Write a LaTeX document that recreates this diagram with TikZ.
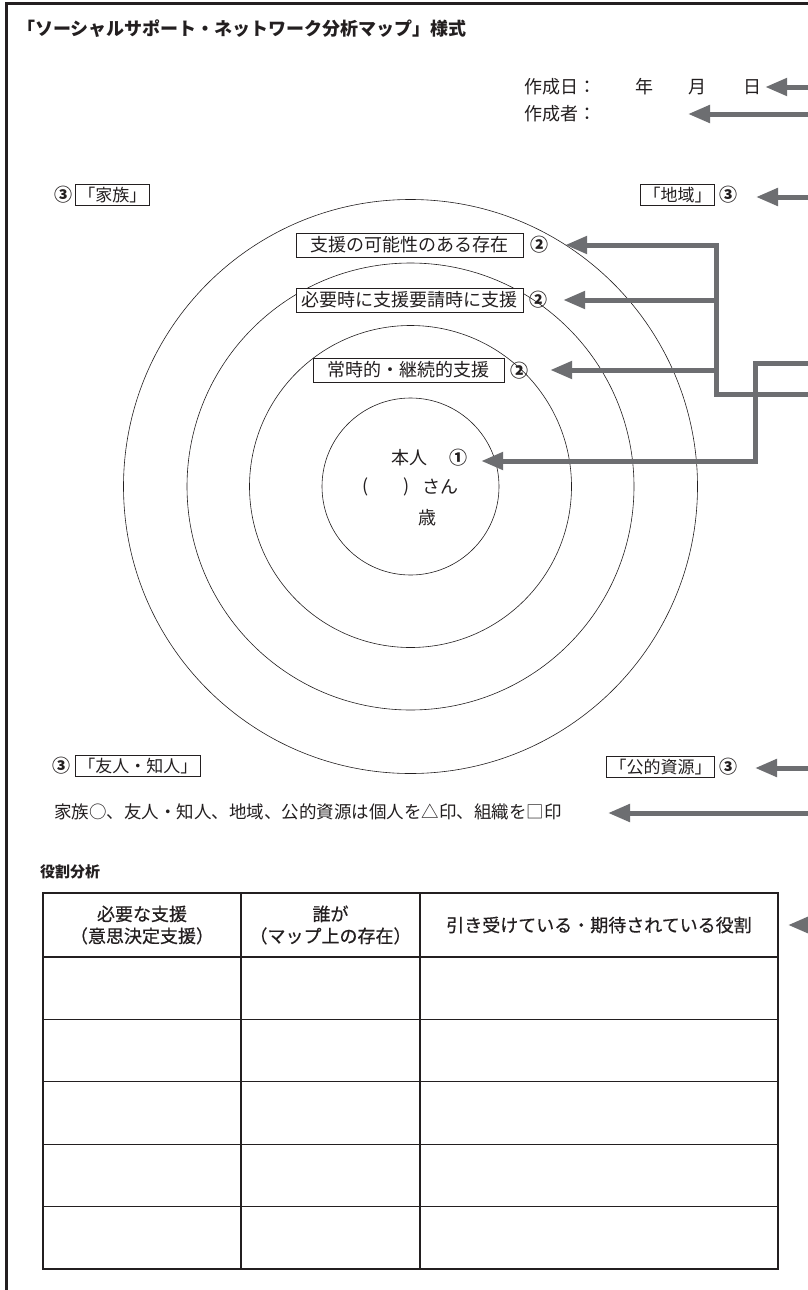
\documentclass[tikz,border=0pt]{standalone}
\usepackage{fontspec}
\setmainfont{Noto Sans CJK JP}
\newfontfamily\jpmed{Noto Sans CJK JP}[FakeBold=0.5]
\usetikzlibrary{arrows.meta}
\definecolor{arrowgray}{HTML}{6D6E71}
\definecolor{ink}{HTML}{231F20}
\begin{document}
\begin{tikzpicture}[x=1pt,y=-1pt,
  txt/.style={inner sep=0pt, font=\fontsize{18}{20}\selectfont, text=ink},
  num/.style={inner sep=0pt, font=\fontsize{18}{20}\selectfont\bfseries, text=ink},
  tag/.style={draw=ink, line width=0.9pt, inner xsep=3pt, inner ysep=3pt, font=\fontsize{17}{19}\selectfont, text=ink},
  bigtag/.style={draw=ink, line width=0.9pt, inner sep=0pt, minimum height=24pt, font=\fontsize{18}{20}\selectfont, text=ink},
  ring/.style={draw=ink, line width=0.6pt},
  garrow/.style={draw=arrowgray, line width=5pt, line join=miter, -{Triangle[length=22pt,width=17pt]}},
  tbl/.style={draw=ink, line width=1.1pt},
  head/.style={inner sep=0pt, align=center, font=\fontsize{18}{22}\selectfont\jpmed, text=ink}
]
\useasboundingbox (0,0) rectangle (808,1290);
\fill[white] (0,0) rectangle (808,1290);
% frame
\draw[ink, line width=3pt, line join=miter] (6,1295) -- (6,4) -- (812,4);

% title
\node[txt, anchor=west, font=\fontsize{18}{20}\selectfont\bfseries] (title) at (17,29) {「ソーシャルサポート・ネットワーク分析マップ」様式};

% date / author
\node[txt, anchor=west] (made) at (524,87) {作成日：};
\node[txt] (yr) at (644,87) {年};
\node[txt] (mo) at (697,87) {月};
\node[txt] (dy) at (752,87) {日};
\coordinate (dyS) at (812,87);
\draw[garrow] (dyS) -- ([xshift=4pt]dy.east);

\node[txt, anchor=west] (author) at (524,114) {作成者：};
\coordinate (authS) at (812,114);
\coordinate (authT) at (688,114);
\draw[garrow] (authS) -- (authT);

% family / region
\node[num] (c3fam) at (63,195) {③};
\node[tag, anchor=west] (fam) at (75,195) {「家族」};
\node[tag, anchor=east] (reg) at (715,195) {「地域」};
\node[num] (c3reg) at (728,195) {③};
\coordinate (regS) at (812,197);
\coordinate (regT) at (756,197);
\draw[garrow] (regS) -- (regT);

% rings
\coordinate (ctr) at (410.5,486.5);
\draw[ring] (ctr) circle[radius=88.5];
\draw[ring] (ctr) circle[radius=161];
\draw[ring] (ctr) circle[radius=223.5];
\draw[ring] (ctr) circle[radius=287];

% ring labels
\node[bigtag, fill=white, minimum width=227pt] (pot) at (409.5,245) {支援の可能性のある存在};
\node[num] (c2a) at (539,245) {②};
\node[bigtag, fill=white, minimum width=227pt] (need) at (409.5,300) {必要時に支援要請時に支援};
\node[num] (c2b) at (538,300) {②};
\node[bigtag, fill=white, minimum width=191pt] (const) at (408.5,370) {常時的・継続的支援};
\node[num] (c2c) at (519,371) {②};

% self
\node[txt] (self) at (409,458) {本人};
\node[num] (one) at (458,458) {①};
\node[txt] (lp) at (366,487) {(};
\node[txt] (rp) at (407,487) {)};
\node[txt] (san) at (440,487) {さん};
\node[txt] (age) at (427,518) {歳};

% trunk arrows
\coordinate (trS) at (812,394);
\coordinate (trC) at (716,394);
\coordinate (trT) at (716,245);
\coordinate (trB) at (716,300);
\coordinate (trD) at (716,370);
\draw[garrow] (trS) -- (trC) -- (trT) -- ([xshift=17pt]c2a.east);
\draw[garrow] (trB) -- ([xshift=16pt]c2b.east);
\draw[garrow] (trD) -- ([xshift=22pt,yshift=1pt]c2c.east);

\coordinate (p2S) at (812,363);
\coordinate (p2A) at (755,363);
\coordinate (p2B) at (755,461);
\draw[garrow] (p2S) -- (p2A) -- (p2B) -- ([xshift=14pt,yshift=-3pt]one.east);

% friends / public
\node[num] (c3fr) at (61,766) {③};
\node[tag, anchor=west] (fr) at (75,766) {「友人・知人」};
\node[tag, anchor=east] (pub) at (715,767) {「公的資源」};
\node[num] (c3pub) at (728,767) {③};
\coordinate (pubS) at (812,768);
\coordinate (pubT) at (755,768);
\draw[garrow] (pubS) -- (pubT);

\node[txt, anchor=west, font=\fontsize{17.5}{19}\selectfont] (desc) at (54,812) {家族○、友人・知人、地域、公的資源は個人を△印、組織を□印};
\coordinate (descS) at (812,813);
\coordinate (descT) at (608,813);
\draw[garrow] (descS) -- (descT);

% role analysis
\node[txt, anchor=west, font=\fontsize{15}{17}\selectfont\bfseries] (role) at (40,872) {役割分析};

\draw[tbl] (43,893) rectangle (778,1269);
\foreach \yy in {957,1019.4,1081.8,1144.2,1206.6} \draw[tbl] (43,\yy) -- (778,\yy);
\draw[tbl] (241,893) -- (241,1269);
\draw[tbl] (420,893) -- (420,1269);

\node[head] (h1) at (142,925) {必要な支援\\（意思決定支援）};
\node[head] (h2) at (330.5,925) {誰が\\（マップ上の存在）};
\node[head] (h3) at (599,925) {引き受けている・期待されている役割};
\coordinate (tblS) at (812,925);
\coordinate (tblT) at (788,925);
\draw[garrow] (tblS) -- (tblT);
\end{tikzpicture}
\end{document}
